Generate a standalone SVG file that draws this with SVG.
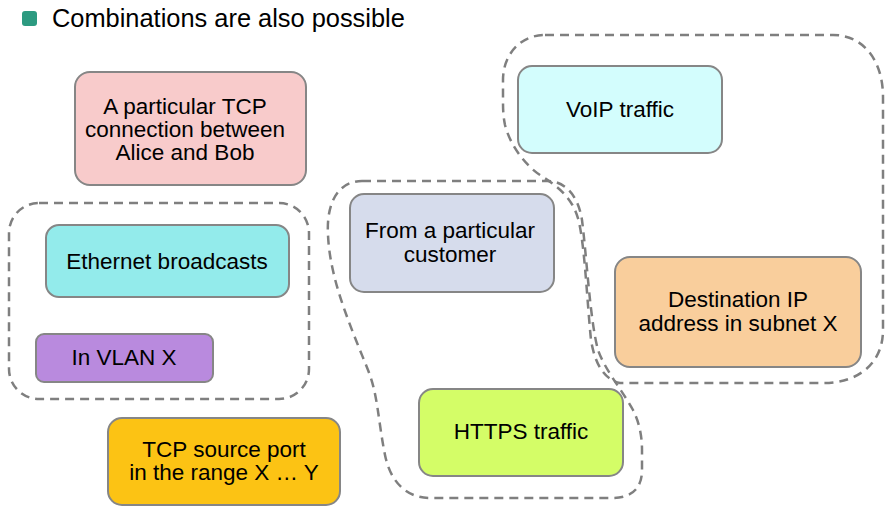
<svg xmlns="http://www.w3.org/2000/svg" width="890" height="517" viewBox="0 0 890 517">
<style>
.n{stroke:#868686;stroke-width:2}
.t{font-family:"Liberation Sans",Arial,sans-serif;font-size:22.5px;fill:#000;text-anchor:middle}
.g{fill:none;stroke:#7f7f7f;stroke-width:2.5;stroke-dasharray:9 6}
</style>
<rect width="890" height="517" fill="#fff"/>
<g id="title">
<rect x="22" y="11" width="15" height="15" rx="3" fill="#2c9a80"/>
<text x="52" y="27" font-family="Liberation Sans,Arial,sans-serif" font-size="25.4px">Combinations are also possible</text>
</g>
<g id="groups">
<rect class="g" x="9" y="203" width="300" height="196" rx="30"/>
<path class="g" d="M362,181 L547,181 C565,181 578,195 582,220 C587,260 590,320 598,350 C605,370 622,390 633,410 C639,422 642,435 642,450 L642,470 C642,490 630,498 612,498 L430,498 C405,498 390,480 385,455 C378,420 378,395 368,370 C350,325 330,280 328,235 C326,200 340,181 362,181 Z"/>
<path class="g" d="M545,35 L833,35 C863,35 883,60 883,97 L883,330 C883,362 860,383 823,383 L620,383 C605,380 595,365 591,340 C587,300 585,250 579,222 C573,197 557,186 540,175 C525,165 510,145 505,125 C503,115 503,108 503,100 L503,80 C503,55 520,35 545,35 Z"/>
</g>
<g id="tcp-conn">
<rect class="n" x="75" y="72" width="231" height="113" rx="15" fill="#f8cbcb"/>
<text class="t" x="185" y="114">A particular TCP</text>
<text class="t" x="185" y="137">connection between</text>
<text class="t" x="185" y="160">Alice and Bob</text>
</g>
<g id="ethernet">
<rect class="n" x="46" y="225" width="243" height="72" rx="13" fill="#93ebeb"/>
<text class="t" x="167" y="269">Ethernet broadcasts</text>
</g>
<g id="vlan">
<rect class="n" x="36" y="334" width="177" height="48" rx="8" fill="#b98ade"/>
<text class="t" x="124" y="365">In VLAN X</text>
</g>
<g id="tcp-port">
<rect class="n" x="108" y="418" width="232" height="87" rx="14" fill="#fcc314"/>
<text class="t" x="224" y="457">TCP source port</text>
<text class="t" x="224" y="480">in the range X … Y</text>
</g>
<g id="customer">
<rect class="n" x="350" y="194" width="204" height="98" rx="14" fill="#d6dcec"/>
<text class="t" x="450" y="238">From a particular</text>
<text class="t" x="450" y="262">customer</text>
</g>
<g id="https">
<rect class="n" x="419" y="389" width="204" height="87" rx="14" fill="#d4fd67"/>
<text class="t" x="521" y="439">HTTPS traffic</text>
</g>
<g id="voip">
<rect class="n" x="518" y="66" width="204" height="87" rx="14" fill="#d3fdfd"/>
<text class="t" x="620" y="117">VoIP traffic</text>
</g>
<g id="dest-ip">
<rect class="n" x="615" y="257" width="246" height="110" rx="15" fill="#f9ce9c"/>
<text class="t" x="738" y="307">Destination IP</text>
<text class="t" x="738" y="331">address in subnet X</text>
</g>
</svg>
